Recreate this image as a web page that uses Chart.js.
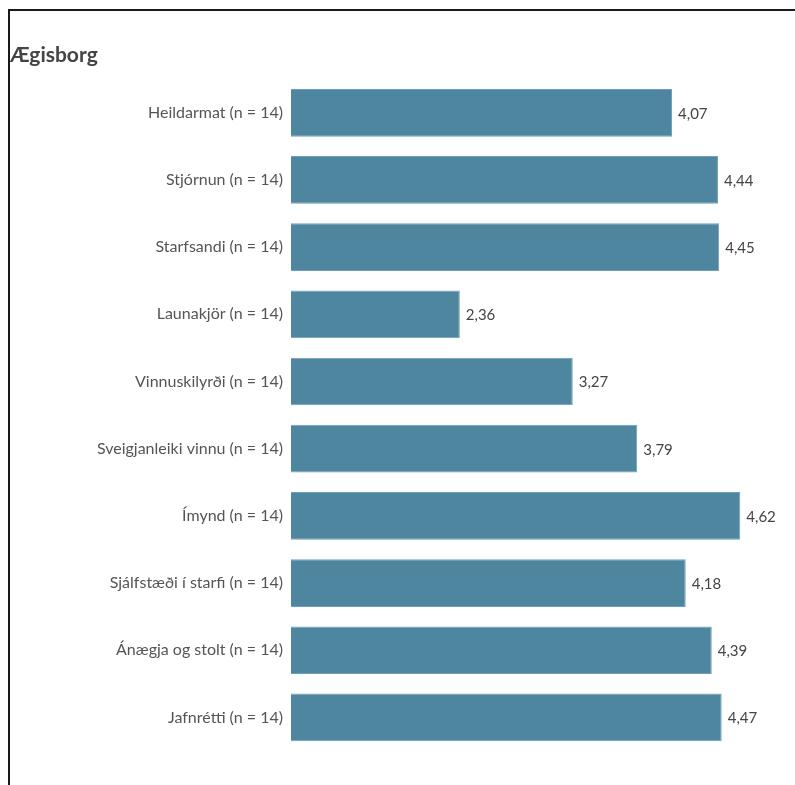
<!DOCTYPE html>
<html>
<head>
<meta charset="utf-8">
<script src="https://cdn.jsdelivr.net/npm/chart.js@4"></script>
<style>
  body { margin: 0; background: #fff; }
  #frame { position: absolute; left: 8px; top: 9px; width: 800px; height: 800px;
           border-top: 2px solid #1a1a1a; border-left: 2px solid #1a1a1a; }
  #wrap { position: absolute; left: 0; top: 0; width: 795px; height: 785px; }
</style>
</head>
<body>
<div id="frame"></div>
<div id="wrap"><canvas id="myChart" width="795" height="785"></canvas></div>
<script>
// data
var categories = ['Heildarmat (n = 14)', 'Stjórnun (n = 14)', 'Starfsandi (n = 14)', 'Launakjör (n = 14)',
    'Vinnuskilyrði (n = 14)', 'Sveigjanleiki vinnu (n = 14)', 'Ímynd (n = 14)',
    'Sjálfstæði í starfi (n = 14)', 'Ánægja og stolt (n = 14)', 'Jafnrétti (n = 14)'];
var values = [4.07, 4.44, 4.45, 2.36, 3.27, 3.79, 4.62, 4.18, 4.39, 4.47];
var chartTitle = 'Ægisborg';

// value labels at bar end, comma decimals
var valueLabels = {
    id: 'valueLabels',
    afterDatasetsDraw: function (chart) {
        var ctx = chart.ctx;
        var meta = chart.getDatasetMeta(0);
        ctx.save();
        ctx.font = '15px Lato';
        ctx.fillStyle = '#444';
        ctx.textAlign = 'left';
        ctx.textBaseline = 'middle';
        meta.data.forEach(function (bar, i) {
            ctx.fillText(values[i].toFixed(2).replace('.', ','), bar.x + 6, bar.y + 1);
        });
        ctx.restore();
    }
};

var ctx = document.getElementById('myChart').getContext('2d');
var myChart = new Chart(ctx, {
    type: 'bar',
    data: {
        labels: categories,
        datasets: [{
            data: values,
            backgroundColor: 'rgb(78, 134, 160)',
            borderColor: 'rgb(110, 160, 185)',
            borderWidth: 1,
            borderSkipped: false,
            barPercentage: 0.71,
            categoryPercentage: 1
        }]
    },
    options: {
        indexAxis: 'y',
        responsive: false,
        animation: false,
        layout: { padding: { left: 10, right: 10, top: 0, bottom: 34 } },
        plugins: {
            legend: { display: false },
            tooltip: { enabled: false },
            title: {
                display: true,
                text: chartTitle,
                align: 'start',
                color: '#444',
                font: { family: 'Lato', size: 21, weight: 'bold' },
                padding: { top: 43, bottom: 11 }
            }
        },
        scales: {
            x: {
                display: false,
                min: 1,
                max: 4.98
            },
            y: {
                grid: { display: false, drawTicks: false },
                border: { display: false },
                ticks: {
                    color: '#555',
                    padding: 8,
                    font: { family: 'Lato', size: 16 }
                },
                afterFit: function (scale) { scale.width = 281; }
            }
        }
    },
    plugins: [valueLabels]
});
</script>
</body>
</html>
